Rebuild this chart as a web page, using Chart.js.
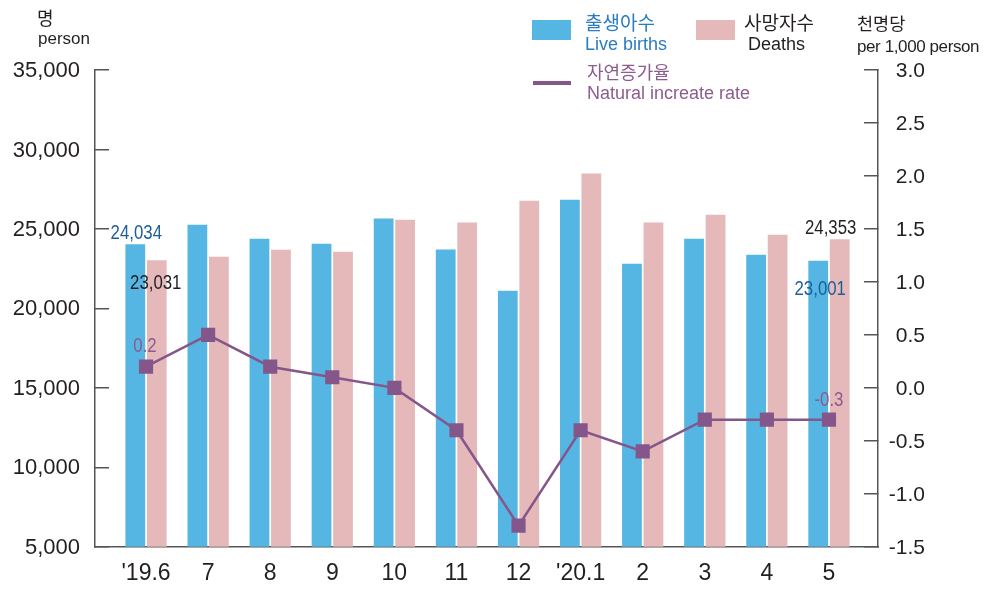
<!DOCTYPE html>
<html><head><meta charset="utf-8">
<script src="https://cdn.jsdelivr.net/npm/chart.js@4"></script>
<style>
html,body{margin:0;padding:0;background:#fff;}
#wrap{position:relative;width:990px;height:589px;overflow:hidden;}
#c{position:absolute;left:0;top:0;}
.t{position:absolute;white-space:nowrap;font-family:"Liberation Sans",Arial,sans-serif;line-height:1;}
.k{font-family:"Noto Sans CJK KR","Noto Sans",sans-serif;}
.sw{position:absolute;}
</style></head><body>
<div id="wrap">
<canvas id="c" width="990" height="589"></canvas>
<div class="t k" style="left:37px;top:8px;font-size:18px;color:#231f20;">명</div>
<div class="t" style="left:38px;top:30px;font-size:17px;color:#231f20;">person</div>
<div class="t k" style="left:857px;top:14px;font-size:17.5px;color:#231f20;">천명당</div>
<div class="t" style="left:857px;top:38px;font-size:17px;color:#231f20;letter-spacing:-0.4px;">per 1,000 person</div>
<div class="sw" style="left:532px;top:20px;width:39px;height:20px;background:#55b6e3;"></div>
<div class="t k" style="left:585px;top:12px;font-size:19px;color:#2a7cc0;">출생아수</div>
<div class="t" style="left:585px;top:35px;font-size:18px;color:#2a7cc0;">Live births</div>
<div class="sw" style="left:696px;top:20px;width:39px;height:20px;background:#e5b8b9;"></div>
<div class="t k" style="left:744px;top:12px;font-size:19px;color:#231f20;">사망자수</div>
<div class="t" style="left:748px;top:35px;font-size:18px;color:#231f20;">Deaths</div>
<div class="sw" style="left:533px;top:81px;width:38px;height:4px;background:#84568a;"></div>
<div class="t k" style="left:587px;top:62px;font-size:18px;color:#8d5c8f;">자연증가율</div>
<div class="t" style="left:587px;top:84px;font-size:18px;color:#8d5c8f;">Natural increate rate</div>
</div>
<script>
const categories = ["'19.6","7","8","9","10","11","12","'20.1","2","3","4","5"];
const liveBirths = [24034,25270,24390,24070,25650,23700,21110,26840,22810,24390,23380,23001];
const deaths = [23031,23250,23690,23570,25580,25400,26780,28480,25400,25900,24640,24353];
const naturalRate = [0.2,0.5,0.2,0.1,0.0,-0.4,-1.3,-0.4,-0.6,-0.3,-0.3,-0.3];
const leftTicks = [5000,10000,15000,20000,25000,30000,35000];
const rightTicks = [-1.5,-1.0,-0.5,0.0,0.5,1.0,1.5,2.0,2.5,3.0];
// data labels shown on the chart: [datasetIndex, pointIndex, text]
const shownLabels = [
  [0, 0, "24,034"], [1, 0, "23,031"], [2, 0, "0.2"],
  [0, 11, "23,001"], [1, 11, "24,353"], [2, 11, "-0.3"]
];

const FONT = '"Liberation Sans", Arial, sans-serif';
const TXT = '#231f20';
const AXIS = '#555555';

const toXY = arr => arr.map((v, i) => ({x: i, y: v}));

const labelStyle = {
  '0,0':  {dx: 1,  dy: -5, color: '#1c5f96'},
  '1,0':  {dx: -1, dy: 29, color: TXT},
  '2,0':  {dx: -1, dy: -15, color: '#8d5c8f'},
  '0,11': {dx: 2,  dy: 34, color: '#1c5f96'},
  '1,11': {dx: -9, dy: -5, color: TXT},
  '2,11': {dx: 0,  dy: -14, color: '#8d5c8f'}
};

const valueLabels = {
  id: 'valueLabels',
  afterDatasetsDraw(chart) {
    const ctx = chart.ctx;
    shownLabels.forEach(([ds, idx, text]) => {
      const el = chart.getDatasetMeta(ds).data[idx];
      const st = labelStyle[ds + ',' + idx];
      ctx.save();
      ctx.font = '20px ' + FONT;
      ctx.textAlign = 'center';
      ctx.textBaseline = 'alphabetic';
      ctx.fillStyle = st.color;
      ctx.translate(el.x + st.dx, el.y + st.dy);
      ctx.scale(0.84, 1);
      ctx.fillText(text, 0, 0);
      ctx.restore();
    });
  }
};

new Chart(document.getElementById('c'), {
  type: 'bar',
  data: {
    datasets: [
      {label: '출생아수 Live births', data: toXY(liveBirths), backgroundColor: '#55b6e3',
       yAxisID: 'y', order: 1, categoryPercentage: 0.692, barPercentage: 0.92},
      {label: '사망자수 Deaths', data: toXY(deaths), backgroundColor: '#e5b8b9',
       yAxisID: 'y', order: 1, categoryPercentage: 0.692, barPercentage: 0.92},
      {type: 'line', label: '자연증가율 Natural increate rate', data: toXY(naturalRate),
       yAxisID: 'y1', order: 0, borderColor: '#84568a', backgroundColor: '#84568a',
       borderWidth: 2.5, pointStyle: 'rect', pointRadius: 10, pointHoverRadius: 10,
       pointBackgroundColor: '#84568a', pointBorderWidth: 0, tension: 0, fill: false}
    ]
  },
  options: {
    responsive: false,
    animation: false,
    events: [],
    layout: {padding: {top: 70, left: 0, right: 65, bottom: 0}},
    plugins: {legend: {display: false}, tooltip: {enabled: false}},
    scales: {
      x: {
        type: 'linear', min: -0.822, max: 11.79, offset: false,
        afterBuildTicks: s => { s.ticks = categories.map((_, i) => ({value: i})); },
        ticks: {callback: (v, i) => categories[i], autoSkip: false, maxRotation: 0,
                font: {family: FONT, size: 23}, color: TXT, padding: 13},
        grid: {offset: false, drawOnChartArea: false, drawTicks: false, color: AXIS},
        border: {display: true, color: AXIS, width: 1.5},
        afterFit: s => { s.height = 39; }
      },
      y: {
        type: 'linear', position: 'left', min: 5000, max: 35000,
        afterBuildTicks: s => { s.ticks = leftTicks.map(v => ({value: v})); },
        ticks: {callback: v => v.toLocaleString('en-US'), font: {family: FONT, size: 22},
                color: TXT, padding: 29, labelOffset: 1},
        grid: {drawOnChartArea: false, drawTicks: true, tickLength: -14, color: AXIS, lineWidth: 1.5},
        border: {display: true, color: AXIS, width: 1.5},
        afterFit: s => { s.width = 95; }
      },
      y1: {
        type: 'linear', position: 'right', min: -1.5, max: 3.0,
        afterBuildTicks: s => { s.ticks = rightTicks.map(v => ({value: v})); },
        ticks: {callback: v => v.toFixed(1), font: {family: FONT, size: 21}, color: TXT,
                crossAlign: 'far', padding: 26, labelOffset: 1},
        grid: {drawOnChartArea: false, drawTicks: true, tickLength: -14, color: AXIS, lineWidth: 1.5},
        border: {display: true, color: AXIS, width: 1.5},
        afterFit: s => { s.width = 47; }
      }
    }
  },
  plugins: [valueLabels]
});
</script>
</body></html>
